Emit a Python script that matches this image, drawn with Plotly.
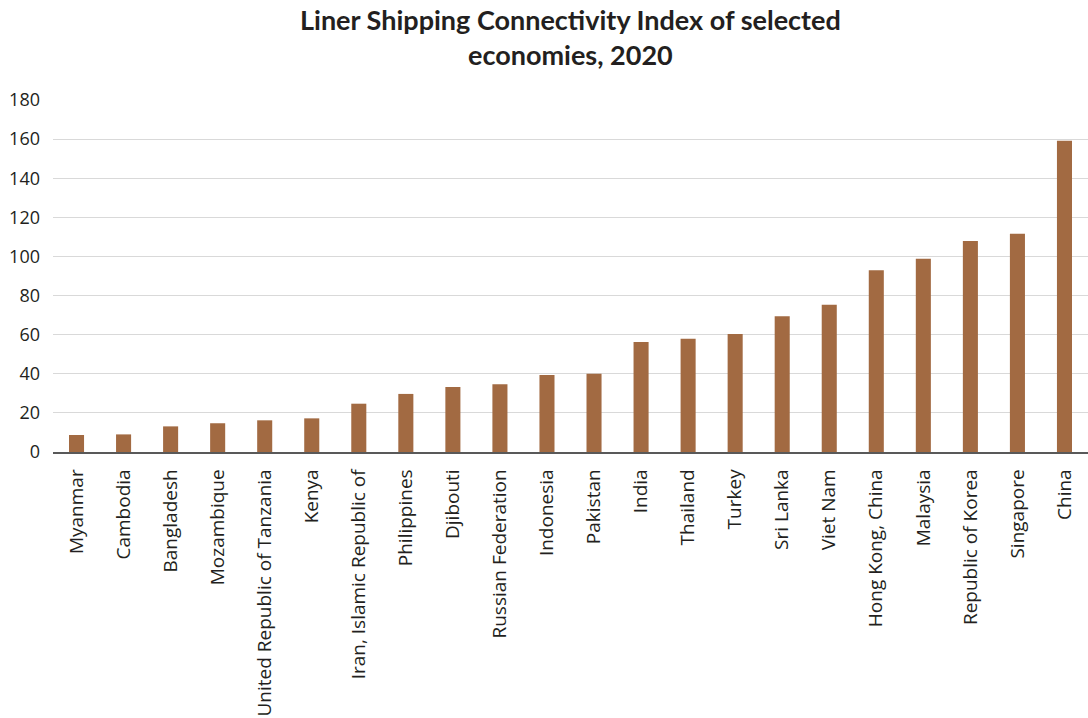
import plotly.graph_objects as go

# Liner Shipping Connectivity Index, 2020
economies = [
    "Myanmar", "Cambodia", "Bangladesh", "Mozambique",
    "United Republic of Tanzania", "Kenya", "Iran, Islamic Republic of",
    "Philippines", "Djibouti", "Russian Federation", "Indonesia", "Pakistan",
    "India", "Thailand", "Turkey", "Sri Lanka", "Viet Nam", "Hong Kong, China",
    "Malaysia", "Republic of Korea", "Singapore", "China",
]
lsci_2020 = [
    8.7, 9.0, 13.1, 14.7, 16.2, 17.2, 24.7, 29.7, 33.2, 34.6, 39.4, 40.0,
    56.2, 57.9, 60.3, 69.4, 75.3, 92.9, 98.8, 107.9, 111.6, 159.2,
]
y_ticks = [0, 20, 40, 60, 80, 100, 120, 140, 160, 180]

TITLE_FONT = "Lato"
FONT = "Open Sans"
TEXT = "#231f20"

fig = go.Figure(
    go.Bar(
        x=economies,
        y=lsci_2020,
        marker=dict(color="#a26a42", line=dict(width=0)),
    )
)

fig.update_layout(
    width=1088,
    height=718,
    margin=dict(l=53, r=0, t=100, b=266),
    paper_bgcolor="white",
    plot_bgcolor="white",
    bargap=0.68,
    showlegend=False,
    font=dict(family=FONT, color=TEXT, size=18),
)

# Two-line chart heading centred over the plotting area
fig.add_annotation(
    text="<b>Liner Shipping Connectivity Index of selected<br>economies, 2020</b>",
    xref="paper",
    yref="paper",
    x=0.5,
    y=1,
    xanchor="center",
    yanchor="bottom",
    yshift=27,
    showarrow=False,
    align="center",
    font=dict(family=TITLE_FONT, size=27, color=TEXT),
)

fig.update_xaxes(
    type="category",
    tickangle=-90,
    tickfont=dict(family=FONT, size=19, color=TEXT),
    ticks="",
    ticklabelstandoff=8,
    showgrid=False,
    showline=True,
    linecolor="#595959",
    linewidth=1.5,
)
fig.update_yaxes(
    range=[0, 180],
    tickvals=y_ticks,
    tickfont=dict(family=FONT, size=18, color=TEXT),
    showgrid=True,
    gridcolor="#d9d9d9",
    gridwidth=1,
    zeroline=False,
    ticks="",
    ticklabelstandoff=12,
    showline=False,
)

fig.write_html("out.html")
